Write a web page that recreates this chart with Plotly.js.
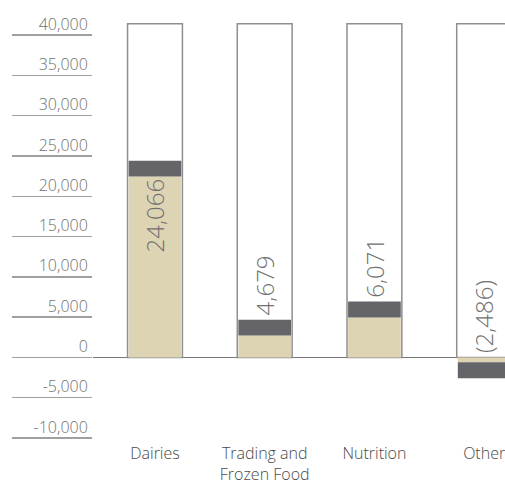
<!DOCTYPE html>
<html>
<head>
<meta charset="utf-8">
<script src="https://cdn.plot.ly/plotly-3.0.1.min.js"></script>
<style>html,body{margin:0;padding:0;background:#fff;}#chart{width:505px;height:485px;}</style>
</head>
<body>
<div id="chart"></div>
<script>
// ---- data ----
var categories = ["Dairies", "Trading and<br>Frozen Food", "Nutrition", "Other"];
var valueLabels = ["24,066", "4,679", "6,071", "(2,486)"];
var tanValues = [22450, 2720, 4960, -620];      // light segment
var capValues = [1950, 1960, 1990, -1980];      // dark cap segment stacked on the light one
var frameTop = [41400, 41400, 41400, 41400];    // outlined background column
var yTickValues = [-10000, -5000, 0, 5000, 10000, 15000, 20000, 25000, 30000, 35000, 40000];
var yTickLabels = ["-10,000", "-5,000", "0", "5,000", "10,000", "15,000", "20,000", "25,000", "30,000", "35,000", "40,000"];

var TAN = "#ddd4b4", CAP = "#646469", EDGE = "#8f8f8f", TXT = "#707070";

var traces = [
  {type: "bar", x: categories, y: frameTop, base: 0, width: 0.5,
   marker: {color: "#ffffff", line: {color: EDGE, width: 1.5}}, hoverinfo: "skip"},
  {type: "bar", x: categories, y: tanValues, base: 0, width: 0.48,
   marker: {color: TAN, line: {width: 0}}},
  {type: "bar", x: categories, y: capValues, base: tanValues, width: 0.48,
   marker: {color: CAP, line: {width: 0}}}
];

var annotations = categories.map(function (c, i) {
  var end = tanValues[i] + capValues[i];
  var inside = end > 15000;
  return {
    x: c, xref: "x", yref: "y",
    y: inside ? tanValues[i] : Math.max(0, end),
    text: valueLabels[i], textangle: -90, showarrow: false,
    xanchor: "center", yanchor: inside ? "top" : "bottom",
    yshift: inside ? 0 : 2,
    font: {family: "Open Sans, sans-serif", size: 24, weight: 300, color: TXT}
  };
});

var layout = {
  width: 505, height: 485,
  margin: {l: 93, r: 0, t: 19, b: 39},
  paper_bgcolor: "#ffffff", plot_bgcolor: "#ffffff",
  showlegend: false, barmode: "overlay",
  xaxis: {range: [-0.565, 3.19], showgrid: false, zeroline: false, showline: false,
          ticks: "", ticklabelstandoff: -4,
          tickfont: {family: "Open Sans, sans-serif", size: 16, weight: 300, color: "#4a4a4a"}},
  yaxis: {range: [-11000, 42000], showgrid: false, zeroline: true, zerolinecolor: "#777777",
          zerolinewidth: 1.5, showline: false,
          tickmode: "array", tickvals: yTickValues, ticktext: yTickLabels,
          ticks: "outside", ticklen: 80, tickwidth: 1.5, tickcolor: "#a0a0a0",
          ticklabelstandoff: -79, ticklabelshift: -11,
          tickfont: {family: "Open Sans, sans-serif", size: 16, weight: 300, color: TXT}},
  annotations: annotations
};

Plotly.newPlot("chart", traces, layout, {staticPlot: true, displayModeBar: false});
</script>
</body>
</html>
